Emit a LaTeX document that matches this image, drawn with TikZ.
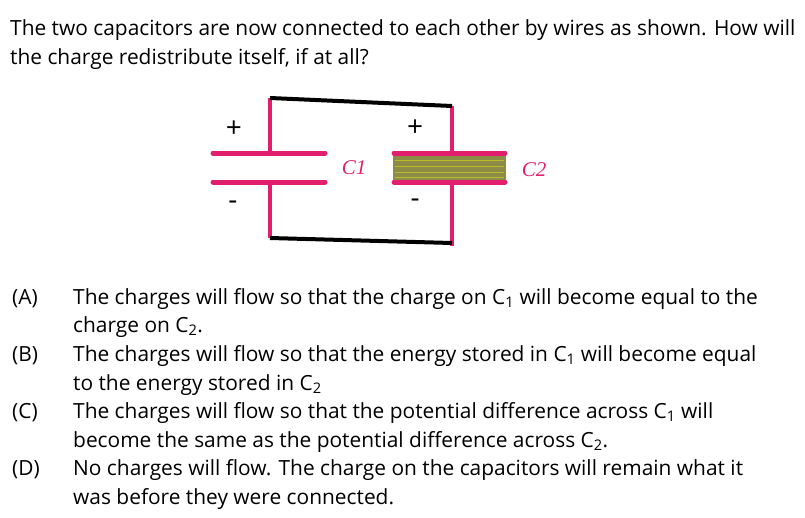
\documentclass[tikz,border=0pt]{standalone}
\usepackage{fontspec}
\setmainfont{Open Sans}
\newfontfamily\clabfont{Liberation Serif}
\begin{document}
\begin{tikzpicture}[x=1pt,y=-1pt,
  txt/.style={anchor=base west,inner sep=0pt,font=\fontsize{20.9}{24}\selectfont},
  wire/.style={line width=4pt},
  pink/.style={draw=magpink,line width=4pt},
  plate/.style={draw=magpink,line width=5pt,line cap=round},
  sign/.style={font=\fontsize{28}{30}\selectfont},
  clab/.style={text=magpink,font=\clabfont\itshape\fontsize{21}{24}\selectfont}]
\definecolor{magpink}{RGB}{226,30,110}
\definecolor{olive}{RGB}{140,140,70}
\useasboundingbox (0,0) rectangle (805,517);
\node[txt] (t1) at (10,35) {The two capacitors are now connected to each other by wires as shown. How will};
\node[txt] (t2) at (10,64) {the charge redistribute itself, if at all?};
% circuit
\coordinate (lt) at (270,98); \coordinate (rt) at (452,106);
\coordinate (lb) at (270,238); \coordinate (rb) at (452,243);
\fill[olive] (393,155) rectangle (506,180);
\foreach \yy in {160,166,172,177} \draw[olive!60!yellow,line width=0.6pt] (395,\yy) -- (504,\yy);
\draw[pink] (lt) -- (270,153); \draw[pink] (270,182) -- (lb);
\draw[pink] (rt) -- (452,153); \draw[pink] (452,182) -- (452,246);
\draw[plate] (213,153) -- (325,153); \draw[plate] (213,182) -- (325,182);
\draw[plate] (394,153) -- (505,153); \draw[plate] (394,182) -- (505,182);
\draw[wire] (lt) -- (rt); \draw[wire] (lb) -- (rb);
\node[sign] (p1) at (234,129) {+}; \node[sign] (p2) at (415,128) {+};
\node[sign] (m1) at (233,205) {-}; \node[sign] (m2) at (415,203) {-};
\node[clab] (c1) at (354,168) {C1}; \node[clab] (c2) at (534,170) {C2};
% options
\node[txt] (a) at (12,304) {(A)};
\node[txt] at (73,304) {The charges will flow so that the charge on C\textsubscript{1} will become equal to the};
\node[txt] at (73,332) {charge on C\textsubscript{2}.};
\node[txt] (b) at (12,361) {(B)};
\node[txt] at (73,361) {The charges will flow so that the energy stored in C\textsubscript{1} will become equal};
\node[txt] at (73,390) {to the energy stored in C\textsubscript{2}};
\node[txt] (c) at (12,418) {(C)};
\node[txt] at (73,418) {The charges will flow so that the potential difference across C\textsubscript{1} will};
\node[txt] at (73,447) {become the same as the potential difference across C\textsubscript{2}.};
\node[txt] (d) at (12,475) {(D)};
\node[txt] at (73,475) {No charges will flow. The charge on the capacitors will remain what it};
\node[txt] at (73,504) {was before they were connected.};
\end{tikzpicture}
\end{document}
